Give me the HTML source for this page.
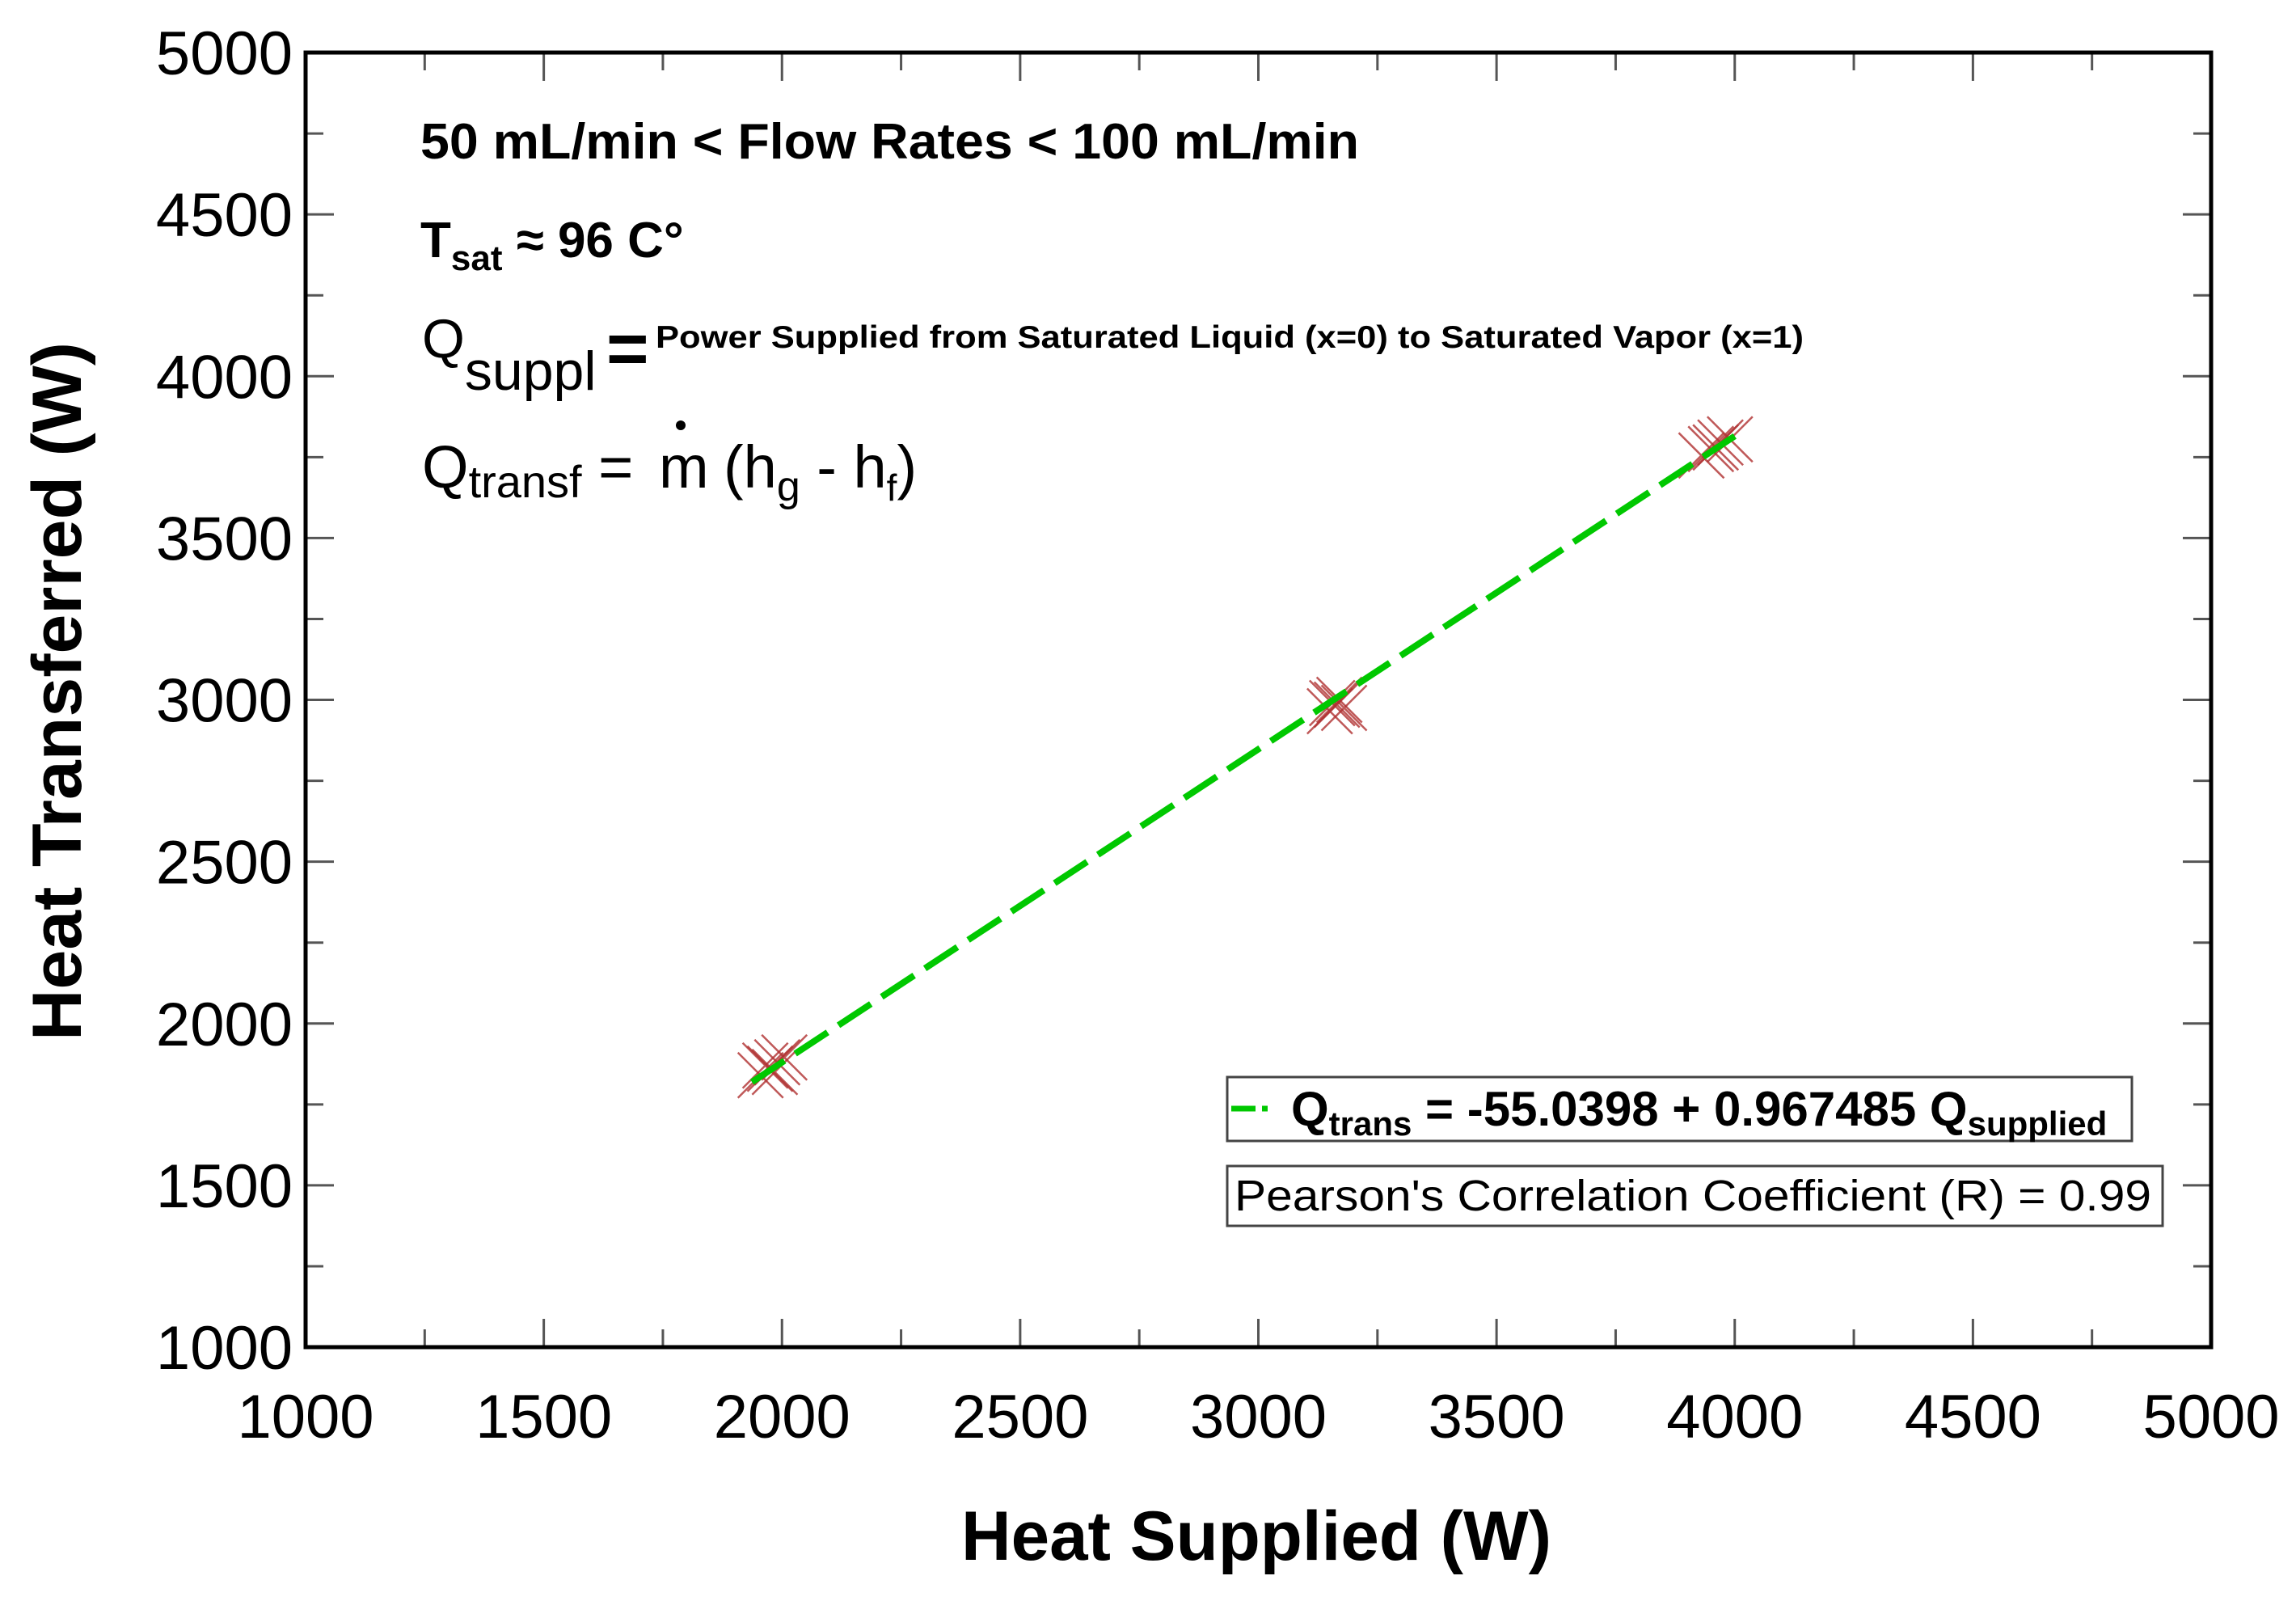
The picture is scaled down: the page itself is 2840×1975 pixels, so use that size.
<!DOCTYPE html>
<html><head><meta charset="utf-8"><style>
html,body{margin:0;padding:0;background:#fff;}
svg{display:block;}
text{font-family:"Liberation Sans",Arial,sans-serif;fill:#000;}
</style></head><body>
<svg id="chart" width="2840" height="1975" viewBox="0 0 2840 1975" xmlns="http://www.w3.org/2000/svg">
<rect width="2840" height="1975" fill="#fff"/>
<g id="ticks"></g>
<g id="marks"></g>
<rect x="378" y="65" width="2357" height="1601" fill="none" stroke="#000" stroke-width="5"/>
<g id="labels"></g>
<text x="1554" y="1929" font-size="86" font-weight="bold" text-anchor="middle" textLength="730" lengthAdjust="spacingAndGlyphs">Heat Supplied (W)</text>
<text transform="translate(70,855) rotate(-90)" x="0" y="30" font-size="86" font-weight="bold" text-anchor="middle" textLength="864" lengthAdjust="spacingAndGlyphs">Heat Transferred (W)</text>
<text x="520" y="196" font-size="62" font-weight="bold" textLength="1161" lengthAdjust="spacingAndGlyphs">50 mL/min &lt; Flow Rates &lt; 100 mL/min</text>
<text x="520" y="318" font-size="62" font-weight="bold">T<tspan font-size="44" dy="16">sat</tspan><tspan dy="-16"> ≈ 96 C°</tspan></text>
<text x="522" y="442" font-size="68">Q<tspan dy="40">suppl</tspan></text>
<text x="750" y="462" font-size="90" font-weight="bold">=</text>
<text x="811" y="430" font-size="39" font-weight="bold" textLength="1420" lengthAdjust="spacingAndGlyphs">Power Supplied from Saturated Liquid (x=0) to Saturated Vapor (x=1)</text>
<text x="522" y="603" font-size="74">Q<tspan font-size="56" dy="12">transf</tspan><tspan dy="-12"> =</tspan></text>
<text x="815" y="603" font-size="74">m</text>
<text x="895" y="603" font-size="74">(h<tspan font-size="52" dy="16">g</tspan><tspan dy="-16"> - h</tspan><tspan font-size="46" dy="16">f</tspan><tspan dy="-16">)</tspan></text>
<circle cx="842" cy="526" r="6" fill="#000"/>
<g>
<rect x="1518" y="1332" width="1119" height="79" fill="#fff" stroke="#444" stroke-width="3"/>
<line x1="1523" y1="1371" x2="1568" y2="1371" stroke="#00c800" stroke-width="7" stroke-dasharray="30 8"/>
<text x="1597" y="1392" font-size="60" font-weight="bold">Q<tspan font-size="42" dy="12">trans</tspan><tspan dy="-12"> = -55.0398 + 0.967485 Q</tspan><tspan font-size="42" dy="12">supplied</tspan></text>
</g>
<g>
<rect x="1518" y="1442" width="1157" height="74" fill="#fff" stroke="#444" stroke-width="3"/>
<text x="1527" y="1497" font-size="54" textLength="1134" lengthAdjust="spacingAndGlyphs">Pearson's Correlation Coefficient (R) = 0.99</text>
</g>
</svg>
<script>
const xTicks=[1000,1500,2000,2500,3000,3500,4000,4500,5000];
const yTicks=[1000,1500,2000,2500,3000,3500,4000,4500,5000];
const ptX=[1955,1975,1990,2005,1965,1985,3150,3165,3180,3170,3155,3930,3950,3970,3990,3960];
const ptY=[1840,1860,1880,1895,1870,1850,2965,2985,2975,3000,2990,3755,3775,3795,3805,3780];
const fitX=[1937,4000];
const fitIntercept=-55.0398, fitSlope=0.967485;
const L=378,R=2735,T=65,B=1666;
const sx=v=>L+(v-1000)/4000*(R-L);
const sy=v=>B-(v-1000)/4000*(B-T);
const NS="http://www.w3.org/2000/svg";
function mk(tag,attrs,parent){const e=document.createElementNS(NS,tag);for(const k in attrs)e.setAttribute(k,attrs[k]);parent.appendChild(e);return e;}
const tg=document.getElementById('ticks'),lg=document.getElementById('labels'),mg=document.getElementById('marks');
for(let v=1000;v<=5000;v+=250){
  const major=v%500===0, len=major?35:22;
  const x=sx(v),y=sy(v);
  mk('line',{x1:x,y1:B,x2:x,y2:B-len,stroke:'#555','stroke-width':3},tg);
  mk('line',{x1:x,y1:T,x2:x,y2:T+len,stroke:'#555','stroke-width':3},tg);
  mk('line',{x1:L,y1:y,x2:L+len,y2:y,stroke:'#555','stroke-width':3},tg);
  mk('line',{x1:R,y1:y,x2:R-len,y2:y,stroke:'#555','stroke-width':3},tg);
}
xTicks.forEach(v=>{const t=mk('text',{x:sx(v),y:1778,'font-size':76,'text-anchor':'middle'},lg);t.textContent=v;

});
yTicks.forEach(v=>{const t=mk('text',{x:362,y:sy(v)+27,'font-size':76,'text-anchor':'end'},lg);t.textContent=v;

});
ptX.forEach((v,i)=>{const x=sx(v),y=sy(ptY[i]),s=28;
  const g=mk('g',{stroke:'#b03030','stroke-width':2.5,opacity:0.8},mg);
  
  
  mk('line',{x1:x-s,y1:y-s,x2:x+s,y2:y+s},g);
  mk('line',{x1:x-s,y1:y+s,x2:x+s,y2:y-s},g);
});
const fl=mk('line',{x1:sx(fitX[0]),y1:sy(fitIntercept+fitSlope*fitX[0]),x2:sx(fitX[1]),y2:sy(fitIntercept+fitSlope*fitX[1]),stroke:'#00c800','stroke-width':8,'stroke-dasharray':'48 16'},mg);


</script>
</body></html>
